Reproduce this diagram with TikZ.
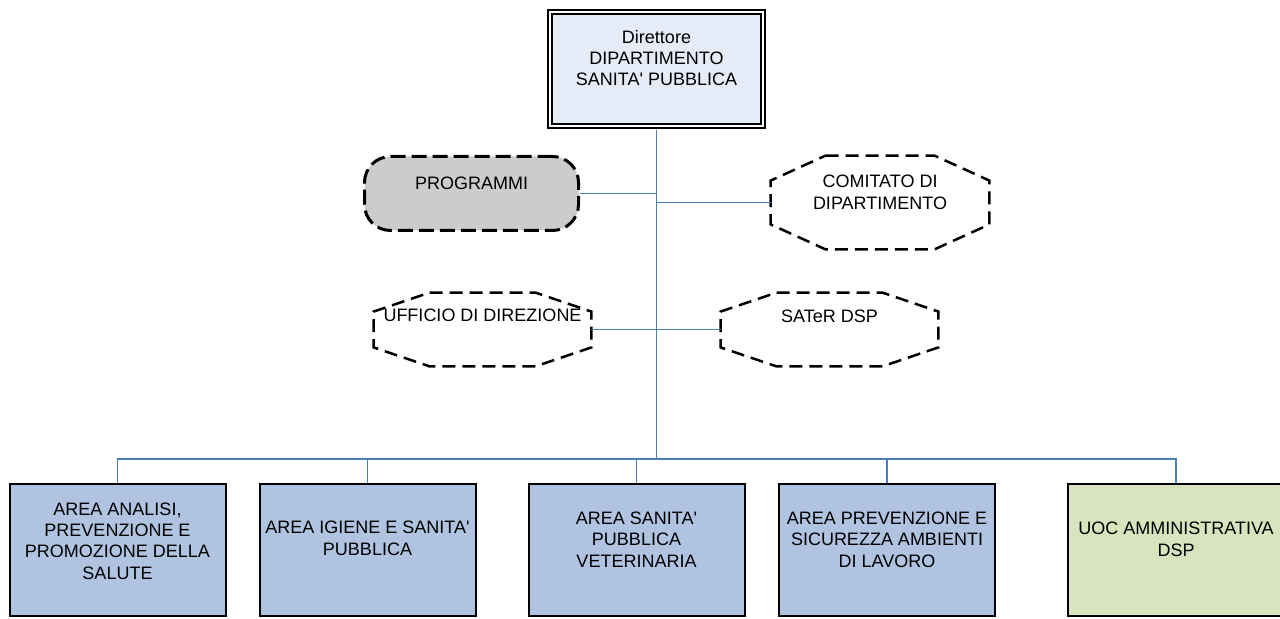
\documentclass[tikz,border=0pt]{standalone}
\usepackage{fontspec}
\setmainfont{Liberation Sans}[Ligatures=TeXOff]
\usetikzlibrary{calc}
\definecolor{linkblue}{RGB}{74,126,187}
\definecolor{topfill}{RGB}{230,236,247}
\definecolor{areafill}{RGB}{176,196,226}
\definecolor{uocfill}{RGB}{215,228,189}
\definecolor{progfill}{RGB}{204,204,204}
\newcommand\myocta[3]{%
  \draw[octaline] ($(#1.north west)+(#2,0)$) -- ($(#1.north east)+(-#2,0)$)
    -- ($(#1.north east)+(0,#3)$) -- ($(#1.south east)+(0,-#3)$)
    -- ($(#1.south east)+(-#2,0)$) -- ($(#1.south west)+(#2,0)$)
    -- ($(#1.south west)+(0,-#3)$) -- ($(#1.north west)+(0,#3)$) -- cycle;}
\tikzset{
  txt/.style={font=\fontsize{9pt}{10.7pt}\selectfont, align=center, inner sep=0pt},
  dirbox/.style={draw=black, line width=1pt, double=white, double distance=1pt,
    fill=topfill, minimum width=106.5pt, minimum height=57pt, inner sep=0pt},
  progbox/.style={draw=black, line width=1.5pt, dash pattern=on 7.5pt off 3pt,
    rounded corners=13pt, fill=progfill, minimum width=107pt, minimum height=37pt, inner sep=0pt},
  octabox/.style={draw=none, inner sep=0pt},
  octaline/.style={draw=black, line width=1.25pt, dash pattern=on 6.5pt off 3.5pt},
  areabox/.style={draw=black, line width=1pt, fill=areafill,
    minimum width=108pt, minimum height=66pt, inner sep=0pt},
  uocbox/.style={areabox, fill=uocfill},
  conn/.style={draw=linkblue, line width=0.75pt},
}
\begin{document}
\begin{tikzpicture}[x=0.5pt, y=-0.5pt]
\clip (0,0) rectangle (1280,619);
\fill[white] (0,0) rectangle (1280,619);

% top box
\node[dirbox] (dir) at (656.5,69) {};
\node[txt] (dirt) at (656.5,58) {Direttore\\DIPARTIMENTO\\SANITA' PUBBLICA};

% programmi
\node[progbox] (prog) at (471.5,193.5) {};
\node[txt] (progt) at (471.5,183.5) {PROGRAMMI};

% comitato
\node[octabox, minimum width=109pt, minimum height=46.5pt] (com) at (880,202.5) {};
\myocta{com}{55}{25}
\node[txt] (comt) at (880,192.5) {COMITATO DI\\DIPARTIMENTO};

% ufficio
\node[octabox, minimum width=108.5pt, minimum height=36.5pt] (uff) at (482.5,329.5) {};
\myocta{uff}{56}{19}
\node[txt] (ufft) at (482.5,315) {UFFICIO DI DIREZIONE};

% sater
\node[octabox, minimum width=108.5pt, minimum height=36.5pt] (sat) at (829.5,329.5) {};
\myocta{sat}{56}{19}
\node[txt] (satt) at (829.5,316.5) {SATeR DSP};

% bottom boxes
\node[areabox] (b1) at (117.5,550) {};
\node[areabox] (b2) at (367.5,550) {};
\node[areabox] (b3) at (636.5,550) {};
\node[areabox] (b4) at (887,550) {};
\node[uocbox]  (b5) at (1176,550) {};
\node[txt] (t1) at (117.5,541) {AREA ANALISI,\\PREVENZIONE E\\PROMOZIONE DELLA\\SALUTE};
\node[txt] (t2) at (367.5,538.5) {AREA IGIENE E SANITA'\\PUBBLICA};
\node[txt] (t3) at (636.5,539.5) {AREA SANITA'\\PUBBLICA\\VETERINARIA};
\node[txt] (t4) at (887,539.5) {AREA PREVENZIONE E\\SICUREZZA AMBIENTI\\DI LAVORO};
\node[txt] (t5) at (1176,539.5) {UOC AMMINISTRATIVA\\DSP};

% connectors
\coordinate (bus) at (656.5,459);
\draw[conn] (dir.south) ++(0,3) -- (bus);
\draw[conn] (prog.east) -- (prog.east -| bus);
\draw[conn] (com.west) -- (com.west -| bus);
\draw[conn] (uff.east) -- (sat.west);
\draw[conn] (b1.north) |- (bus) -| (b5.north);
\draw[conn] (b2.north) -- (b2.north |- bus);
\draw[conn] (b3.north) -- (b3.north |- bus);
\draw[conn] (b4.north) -- (b4.north |- bus);
\end{tikzpicture}
\end{document}
